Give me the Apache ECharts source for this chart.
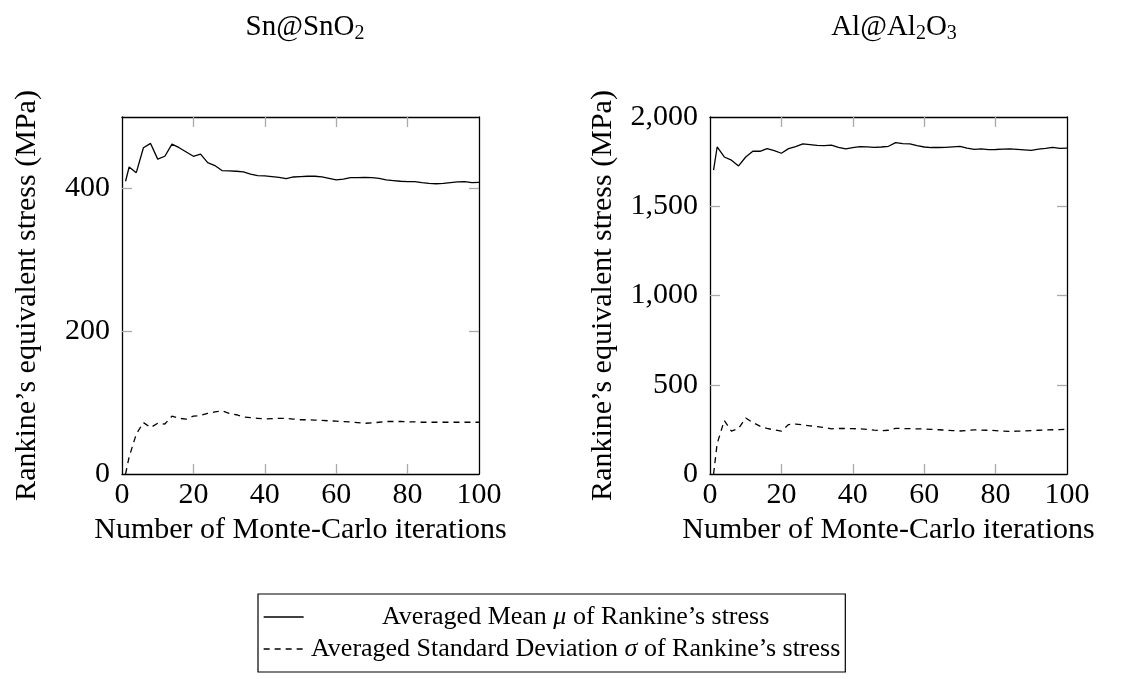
<!DOCTYPE html>
<html>
<head>
<meta charset="utf-8">
<script src="https://cdn.jsdelivr.net/npm/echarts@6/dist/echarts.min.js"></script>
<style>
  html, body { margin: 0; padding: 0; background: #fff; }
  #chart { width: 1132px; height: 679px; }
</style>
</head>
<body>
<div id="chart"></div>
<script>
// Monte-Carlo iteration counts at which the running averages were recorded
const iterations = [1, 2, 4, 6, 8, 10, 12, 14, 16, 18, 20, 22, 24, 26, 28, 30, 32, 34, 36, 38, 40,
  42, 44, 46, 48, 50, 52, 54, 56, 58, 60, 62, 64, 66, 68, 70, 72, 74, 76, 78, 80,
  82, 84, 86, 88, 90, 92, 94, 96, 98, 100];

// Sn@SnO2: averaged mean and standard deviation of Rankine's stress (MPa)
const snMean = [410, 430, 422, 457, 463, 441, 445, 462, 457, 451, 445, 448, 436, 432, 425, 424.5, 424, 423, 420, 418, 417.5,
  416.5, 415.5, 413.7, 416, 416.5, 417, 417, 416, 414, 412, 413, 415, 415, 415.5, 415, 414, 412, 411, 410, 409.5,
  409.5, 408, 407, 406.5, 407, 408, 409, 409.5, 408, 408.5];
const snStd = [0, 24, 56, 72, 65, 71, 70, 81, 78, 77, 81, 82, 85, 87, 88.5, 85, 83, 80, 79, 78, 77,
  77.5, 78, 78, 77, 76, 76, 75.5, 75, 74.5, 74, 73.5, 73, 72, 71, 71.5, 72.5, 73.5, 73.5, 73.5, 73,
  73, 72.5, 72.5, 72.5, 72.5, 72.5, 72.5, 72.5, 72.5, 72.5];

// Al@Al2O3: averaged mean and standard deviation of Rankine's stress (MPa)
const alMean = [1702, 1832, 1776, 1758, 1726, 1776, 1808, 1808, 1823, 1812, 1797, 1823, 1834, 1849, 1845, 1841, 1840, 1843, 1830, 1821, 1828,
  1834, 1833, 1830, 1832, 1836, 1856, 1851, 1849, 1840, 1832, 1829, 1829, 1830, 1833, 1835, 1826, 1819, 1821, 1817, 1818,
  1820, 1821, 1819, 1816, 1813, 1820, 1824, 1830, 1824, 1826];
const alStd = [0, 170, 300, 240, 255, 314, 288, 268, 255, 247, 240, 277, 280, 275, 270, 266, 260, 253, 255, 255, 254,
  253, 250, 246, 243, 245, 256, 255, 254, 253, 252, 250, 248, 246, 243, 241, 244, 247, 246, 245, 243,
  240, 239, 240, 241, 243, 245, 247, 248, 249, 250];

// Axis ticks
const xTicks = [0, 20, 40, 60, 80, 100];
const snYTicks = [0, 200, 400];
const alYTicks = [0, 500, 1000, 1500, 2000];

const panelTitles = ['Sn@SnO{sub|2}', 'Al@Al{sub|2}O{sub|3}'];
const xName = 'Number of Monte-Carlo iterations';
const yName = 'Rankine’s equivalent stress (MPa)';
const meanName = 'Averaged Mean μ of Rankine’s stress';
const stdName = 'Averaged Standard Deviation σ of Rankine’s stress';

const FONT = 'Liberation Serif';
const AX = 30;
const boxLine = { show: true, onZero: false, lineStyle: { color: '#000', width: 1.3 } };
const tickStyle = { lineStyle: { color: '#aaa', width: 1.3 } };

const zip = (xs, ys) => xs.map((x, i) => [x, ys[i]]);

const grids = [
  { left: 122, top: 117, width: 357, height: 357 },
  { left: 710, top: 117, width: 357, height: 357 }
];

function xAxes(gi) {
  const inner = xTicks.slice(1, -1);
  return [
    {
      type: 'value', gridIndex: gi, position: 'bottom', min: 0, max: 100, interval: 20,
      name: xName, nameLocation: 'middle', nameGap: 38,
      nameTextStyle: { fontFamily: FONT, fontSize: AX, color: '#000' },
      axisLine: boxLine,
      axisTick: { show: true, inside: true, length: 10, customValues: inner, ...tickStyle },
      axisLabel: { fontFamily: FONT, fontSize: AX, color: '#000', margin: 6, customValues: xTicks },
      splitLine: { show: false }
    },
    {
      type: 'value', gridIndex: gi, position: 'top', min: 0, max: 100, interval: 20,
      axisLine: boxLine,
      axisTick: { show: true, inside: true, length: 10, customValues: inner, ...tickStyle },
      axisLabel: { show: false },
      splitLine: { show: false }
    }
  ];
}

function yAxes(gi, max, interval, ticks, nameGap, fmt) {
  const inner = ticks.filter(v => v > 0 && v < max);
  return [
    {
      type: 'value', gridIndex: gi, position: 'left', min: 0, max: max, interval: interval,
      name: yName, nameLocation: 'middle', nameGap: nameGap,
      nameTextStyle: { fontFamily: FONT, fontSize: AX, color: '#000' },
      axisLine: boxLine,
      axisTick: { show: true, inside: true, length: 10, customValues: inner, ...tickStyle },
      axisLabel: { fontFamily: FONT, fontSize: AX, color: '#000', margin: 12, customValues: ticks, formatter: fmt },
      splitLine: { show: false }
    },
    {
      type: 'value', gridIndex: gi, position: 'right', min: 0, max: max, interval: interval,
      axisLine: boxLine,
      axisTick: { show: true, inside: true, length: 10, customValues: inner, ...tickStyle },
      axisLabel: { show: false },
      splitLine: { show: false }
    }
  ];
}

const thousands = v => v.toLocaleString('en-US');

function lineSeries(name, xi, yi, values, dashed) {
  return {
    name: name, type: 'line', xAxisIndex: xi, yAxisIndex: yi,
    data: zip(iterations, values),
    symbol: 'none', animation: false,
    lineStyle: { color: '#000', width: 1.3, type: dashed ? [6, 5] : 'solid' },
    itemStyle: { color: '#000' }
  };
}

const titleRich = {
  sub: { fontFamily: FONT, fontSize: 20, color: '#000', lineHeight: 12, verticalAlign: 'bottom' }
};

function legendLabel(name) {
  const sym = name.includes('μ') ? 'μ' : 'σ';
  const parts = name.split(sym);
  return '{t|' + parts[0] + '}{i|' + sym + '}{t|' + parts[1] + '}';
}

const chart = echarts.init(document.getElementById('chart'), null, { renderer: 'canvas' });
chart.setOption({
  backgroundColor: '#fff',
  animation: false,
  title: [
    { text: panelTitles[0], left: 300, top: 5, textAlign: 'center',
      textStyle: { fontFamily: FONT, fontSize: 29, fontWeight: 'normal', color: '#000', lineHeight: 34, rich: titleRich } },
    { text: panelTitles[1], left: 889, top: 5, textAlign: 'center',
      textStyle: { fontFamily: FONT, fontSize: 29, fontWeight: 'normal', color: '#000', lineHeight: 34, rich: titleRich } }
  ],
  grid: grids,
  xAxis: [...xAxes(0), ...xAxes(1)],
  yAxis: [
    ...yAxes(0, 500, 100, snYTicks, 80, v => String(v)),
    ...yAxes(1, 2000, 500, alYTicks, 92, thousands)
  ],
  legend: {
    data: [meanName, stdName],
    orient: 'vertical',
    left: 258, top: 594,
    padding: [10, 5, 10, 5],
    itemWidth: 40, itemHeight: 28, itemGap: 6,
    borderColor: '#000', borderWidth: 1.2, borderRadius: 0,
    selectedMode: false,
    itemStyle: { opacity: 0, borderWidth: 0 },
    lineStyle: { width: 1.3 },
    formatter: legendLabel,
    textStyle: {
      fontFamily: FONT, fontSize: 26, color: '#000', width: 534,
      rich: {
        t: { fontFamily: FONT, fontSize: 26, color: '#000', align: 'center' },
        i: { fontFamily: FONT, fontSize: 26, color: '#000', fontStyle: 'italic', align: 'center' }
      }
    }
  },
  series: [
    lineSeries(meanName, 0, 0, snMean, false),
    lineSeries(stdName, 0, 0, snStd, true),
    lineSeries(meanName, 2, 2, alMean, false),
    lineSeries(stdName, 2, 2, alStd, true)
  ]
});
</script>
</body>
</html>
